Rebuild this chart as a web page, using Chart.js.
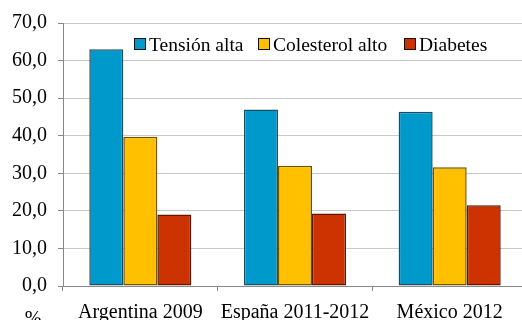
<!DOCTYPE html>
<html>
<head>
<meta charset="utf-8">
<script src="https://cdn.jsdelivr.net/npm/chart.js@4/dist/chart.umd.min.js"></script>
<style>
  html, body { margin: 0; padding: 0; background: #ffffff; overflow: hidden; }
  #wrap { width: 522px; height: 320px; overflow: hidden; position: relative; }
  canvas { display: block; }
</style>
</head>
<body>
<div id="wrap"><canvas id="c" width="527" height="320"></canvas></div>
<script>
// Prevalencia de factores de riesgo (%)
const categories = ['Argentina 2009', 'España 2011-2012', 'México 2012'];
const seriesNames = ['Tensión alta', 'Colesterol alto', 'Diabetes'];
const tensionAlta = [63.0, 47.0, 46.4];
const colesterolAlto = [39.7, 32.0, 31.6];
const diabetes = [19.0, 19.3, 21.5];
const yTicks = [0, 10, 20, 30, 40, 50, 60, 70];

const FONT = 'Liberation Serif, Times New Roman, serif';
const fill = ['#0099cc', '#ffc000', '#cc3300'];
const edge = ['#1d4f62', '#6e5300', '#5e1800'];

function fmt(v) { return v.toFixed(1).replace('.', ','); }

// Legend drawn inside the plot area, plus the "%" unit label
const overlay = {
  id: 'overlay',
  afterDraw(chart) {
    const ctx = chart.ctx;
    const xs = [134, 258, 404];
    ctx.save();
    ctx.font = '19.5px ' + FONT;
    ctx.textBaseline = 'alphabetic';
    chart.data.datasets.forEach((ds, i) => {
      const x = xs[i];
      ctx.fillStyle = ds.backgroundColor;
      ctx.fillRect(x + 0.5, 38.5, 11, 11);
      ctx.strokeStyle = '#111';
      ctx.lineWidth = 1;
      ctx.strokeRect(x + 0.5, 38.5, 11, 11);
      ctx.fillStyle = '#000';
      ctx.textAlign = 'left';
      ctx.fillText(ds.label, x + 15, 50.5);
    });
    ctx.textAlign = 'center';
    ctx.font = '20px ' + FONT;
    ctx.fillText('%', 33, 325);
    ctx.restore();
  }
};

new Chart(document.getElementById('c'), {
  type: 'bar',
  data: {
    labels: categories,
    datasets: [tensionAlta, colesterolAlto, diabetes].map((d, i) => ({
      label: seriesNames[i],
      data: d,
      backgroundColor: fill[i],
      borderColor: edge[i],
      borderWidth: 1.5,
      borderSkipped: false,
      categoryPercentage: 0.66,
      barPercentage: 1.0
    }))
  },
  options: {
    responsive: false,
    animation: false,
    devicePixelRatio: 1,
    layout: { padding: { top: 22, right: 0, bottom: 0, left: 0 } },
    plugins: { legend: { display: false }, tooltip: { enabled: false } },
    scales: {
      x: {
        afterFit(s) { s.height = 34; s.paddingLeft = 0; s.paddingRight = 0; },
        grid: {
          offset: true,
          drawOnChartArea: false,
          drawTicks: true,
          tickLength: 5,
          color: '#888888',
          lineWidth: 1
        },
        border: { color: '#888888', width: 1 },
        ticks: {
          color: '#000',
          padding: 10,
          maxRotation: 0,
          minRotation: 0,
          autoSkip: false,
          font: { family: FONT, size: 20 }
        }
      },
      y: {
        min: 0,
        max: 70,
        afterFit(s) { s.width = 63; },
        afterBuildTicks(s) { s.ticks = yTicks.map(v => ({ value: v })); },
        grid: {
          color: '#c8c8c8',
          lineWidth: 1,
          tickLength: 5,
          tickColor: '#888888'
        },
        border: { color: '#888888', width: 1 },
        ticks: {
          color: '#000',
          padding: 11,
          font: { family: FONT, size: 20 },
          callback: v => fmt(v)
        }
      }
    }
  },
  plugins: [overlay]
});
</script>
</body>
</html>
